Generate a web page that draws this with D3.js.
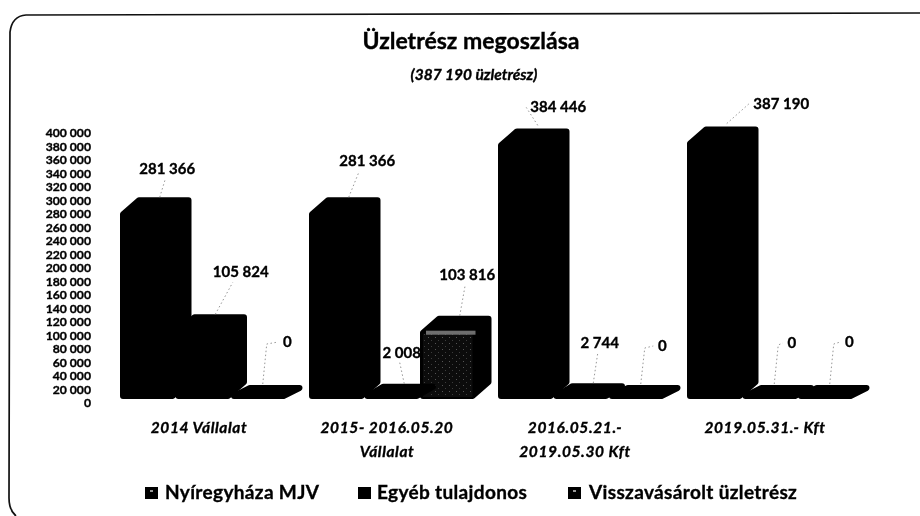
<!DOCTYPE html>
<html><head><meta charset="utf-8">
<script src="https://cdnjs.cloudflare.com/ajax/libs/d3/7.8.5/d3.min.js"></script>
<style>
html,body{margin:0;padding:0;background:#fff}
svg{display:block;filter:blur(0.35px)}
text{font-family:Lato,"Open Sans",sans-serif;fill:#000;stroke:#000;stroke-width:.35px}
</style></head><body>
<svg id="c" width="920" height="516"></svg>
<script>
const categories=[["2014 Vállalat"],["2015- 2016.05.20","Vállalat"],["2016.05.21.-","2019.05.30 Kft"],["2019.05.31.- Kft"]];
const seriesNames=["Nyíregyháza MJV","Egyéb tulajdonos","Visszavásárolt üzletrész"];
const nyiregyhaza=[281366,281366,384446,387190];
const egyeb=[105824,2008,2744,0];
const visszavasarolt=[0,103816,0,0];
const tickValues=d3.range(0,400001,20000);
// manual label placement, relative to each bar's top
const labelOffsets=[[[11.5,-27],[29.5,-41],[20.5,-42]],[[22.5,-35],[1.5,-30],[11.5,-40]],[[24.5,-20],[10.5,-39],[17.5,-38]],[[58.5,-22],[13.5,-41],[15.5,-42]]];

const svg=d3.select("#c");
const fmt=v=>d3.format(",")(v).replace(/,/g," ");
const y=d3.scaleLinear().domain([0,400000]).range([399,132]);
const yAxisScale=d3.scaleLinear().domain([0,400000]).range([403,133]);
const xGroup=d3.scaleBand().domain(d3.range(4)).range([120,876]);
const xBar=d3.scaleBand().domain(d3.range(3)).range([0,166.5]);
const dx=16,dy=14,w=xBar.bandwidth(),r=3;
const series=[nyiregyhaza,egyeb,visszavasarolt];

const defs=svg.append("defs");
const pat=defs.append("pattern").attr("id","tex").attr("width",7).attr("height",6).attr("patternUnits","userSpaceOnUse");
pat.append("rect").attr("width",7).attr("height",6).attr("fill","#0c0c0c");
pat.append("rect").attr("x",1).attr("y",1).attr("width",1).attr("height",1).attr("fill","#555");
pat.append("rect").attr("x",4).attr("y",4).attr("width",1).attr("height",1).attr("fill","#3c3c3c");

// frame
svg.append("path").attr("d","M920,13L26,15Q12,16 10,32L9,498Q9,510 16,516")
  .attr("fill","none").attr("stroke","#111").attr("stroke-width",1.7);

// title
svg.append("text").attr("x",471).attr("y",49).attr("text-anchor","middle").attr("font-size",23).attr("font-weight",700).text("Üzletrész megoszlása");
svg.append("text").attr("x",474).attr("y",80).attr("text-anchor","middle").attr("font-size",15.5).attr("font-weight",700).attr("font-style","italic").text("(387 190 üzletrész)");

// axis
const ax=svg.append("g").attr("transform","translate(91,0)").call(d3.axisLeft(yAxisScale).tickValues(tickValues).tickSize(0).tickPadding(0).tickFormat(fmt));
ax.select(".domain").remove();
ax.selectAll("text").attr("font-size",12.2).attr("font-weight",700).style("font-family","Lato,sans-serif");

// bars
function barPath(x,top,base){
  const l=x+r,rt=x+w+dx-r,tp=top-dy+r,b=base-r;
  const ft=Math.min(top+r,b),rb=Math.max(b-dy,tp);
  return `M${l},${b}L${l},${ft}L${l+dx},${tp}L${rt},${tp}L${rt},${rb}L${x+w-r},${b}Z`;
}
categories.forEach((c,i)=>{
  const gx=xGroup(i);
  const g=svg.append("g");
  [2,1,0].forEach(s=>{
    const v=series[s][i],bx=gx+xBar(s),top=y(v),base=y(0);
    g.append("path").attr("d",barPath(bx,top,base)).attr("fill","#000").attr("stroke","#000")
      .attr("stroke-width",2*r).attr("stroke-linejoin","round");
    if(v>0&&s===2){
      g.append("rect").attr("x",bx+3).attr("y",top+4).attr("width",w-6).attr("height",base-top-6).attr("fill","url(#tex)");
      g.append("rect").attr("x",bx+6).attr("y",top+1).attr("width",w-6).attr("height",4).attr("fill","#8a8a8a").attr("opacity",.8);
    }
  });
});

// leaders & data labels
categories.forEach((c,i)=>{
  series.forEach((ser,s)=>{
    const v=ser[i];
    const bx=xGroup(i)+xBar(s)+w/2+dx/2, top=y(v)-dy;
    const off=labelOffsets[i][s];
    const lx=bx+off[0], ly=top+off[1]-1;
    const t=fmt(v), hw=t.length*4+2;
    let pts;
    if(v===0) pts=[[bx-4,top-1],[bx,ly+2],[lx-9,ly]];
    else if(-off[1]<26) pts=[[bx+4,top-3],[lx-hw-2,ly]];
    else pts=[[bx+4,top],[lx-(off[0]>20?8:2),ly+10]];
    svg.append("path").attr("d",d3.line()(pts)).attr("fill","none")
      .attr("stroke","#8a8a8a").attr("stroke-width",.9).attr("stroke-dasharray","1.5 2.5");
    svg.append("text").attr("x",lx).attr("y",ly+5).attr("text-anchor","middle").attr("font-size",15).attr("font-weight",700).text(t);
  });
});

// category labels
categories.forEach((c,i)=>{
  const cx=xGroup(i)+78+(i===0?1:0)-(i===2?1:0);
  c.forEach((t,k)=>svg.append("text").attr("x",cx).attr("y",433+k*24).attr("text-anchor","middle").attr("font-size",15.5).attr("font-weight",700).attr("font-style","italic").attr("letter-spacing",.6).text(t));
});

// legend
const legX=[145,358,568];
seriesNames.forEach((n,i)=>{
  svg.append("rect").attr("x",legX[i]).attr("y",487).attr("width",13).attr("height",12).attr("fill","#000");
  if(i!==1) svg.append("rect").attr("x",legX[i]+5).attr("y",490).attr("width",3).attr("height",2).attr("fill","#999");
  svg.append("text").attr("x",legX[i]+(i===0?20:(i===1?19:21))).attr("y",499).attr("font-size",19).attr("font-weight",700).attr("letter-spacing",.35).text(n);
});
</script>
</body></html>
